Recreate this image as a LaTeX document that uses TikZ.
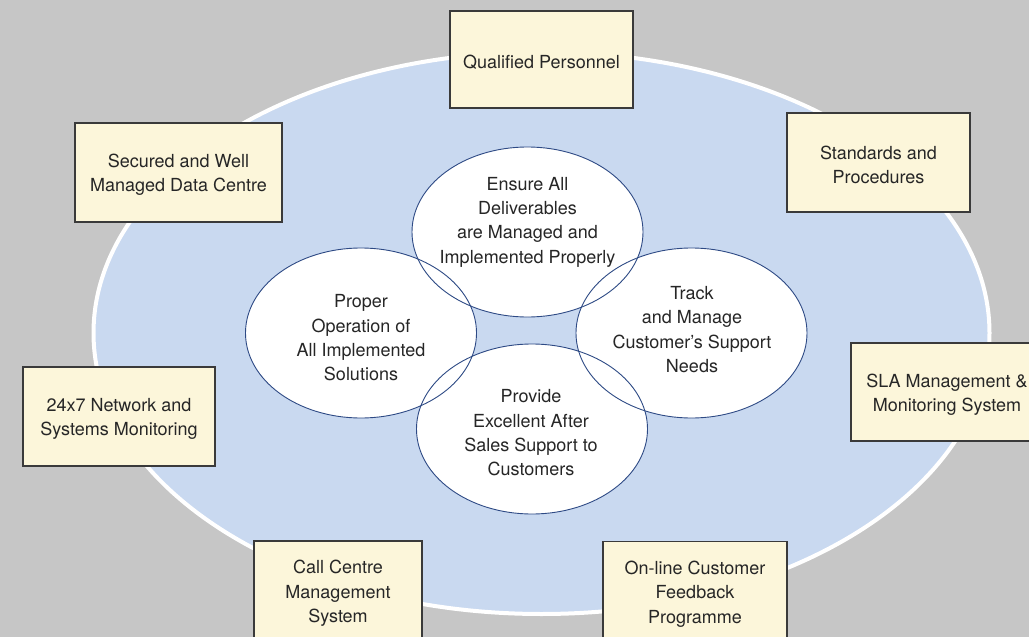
\documentclass[tikz,border=0pt]{standalone}
\usepackage{fontspec}
\setmainfont{TeX Gyre Heros}
\usetikzlibrary{shapes.geometric}
\definecolor{bg}{HTML}{C6C6C6}
\definecolor{bigfill}{HTML}{C9D9F0}
\definecolor{boxfill}{HTML}{FCF6DA}
\definecolor{boxline}{HTML}{3A3A3A}
\definecolor{ringline}{HTML}{2E4A85}
\definecolor{txt}{HTML}{262626}
\begin{document}
\begin{tikzpicture}[x=1pt,y=-1pt,
  bigring/.style={ellipse, inner sep=0pt, minimum width=896pt, minimum height=562pt, fill=bigfill, draw=white, line width=4pt},
  goalfill/.style={ellipse, inner sep=0pt, minimum width=231pt, minimum height=170pt, fill=white},
  goalline/.style={ellipse, inner sep=0pt, minimum width=231pt, minimum height=170pt, draw=ringline, line width=0.9pt},
  goaltext/.style={align=center, text=txt, font=\fontsize{18}{24.3}\selectfont, inner sep=0pt},
  infobox/.style={rectangle, fill=boxfill, draw=boxline, line width=1.4pt, inner sep=0pt},
  boxtext/.style={align=center, text=txt, font=\fontsize{18}{24.3}\selectfont, inner sep=0pt, yshift=-2.5pt}
]
\useasboundingbox (0,0) rectangle (1029,637);
\clip (0,0) rectangle (1029,637);
\fill[bg] (0,0) rectangle (1029,637);
\node[bigring] (big) at (541.5,333) {};

% fills of the four goal ellipses
\node[goalfill] (topbg) at (527.5,232) {};
\node[goalfill] (leftbg) at (361,333) {};
\node[goalfill] (rightbg) at (691.5,333) {};
\node[goalfill] (botbg) at (532,429) {};
% outlines
\node[goalline] (top) at (topbg) {};
\node[goalline] (left) at (leftbg) {};
\node[goalline] (right) at (rightbg) {};
\node[goalline] (bot) at (botbg) {};
% texts
\node[goaltext] (toptext) at (527.5,222) {Ensure All\\Deliverables\\are Managed and\\Implemented Properly};
\node[goaltext] (lefttext) at (361,338) {Proper\\Operation of\\All Implemented\\Solutions};
\node[goaltext] (righttext) at (692,329.5) {Track\\and Manage\\Customer’s Support\\Needs};
\node[goaltext] (bottext) at (531,433) {Provide\\Excellent After\\Sales Support to\\Customers};

% surrounding boxes
\node[infobox, minimum width=183pt, minimum height=97pt] (qual) at (541.5,59.5) {};
\node[boxtext] (qualtext) at (qual.center) {Qualified Personnel};
\node[infobox, minimum width=207pt, minimum height=99pt] (data) at (178.5,172.5) {};
\node[boxtext] (datatext) at (data.center) {Secured and Well\\Managed Data Centre};
\node[infobox, minimum width=183pt, minimum height=99pt] (std) at (878.5,162.5) {};
\node[boxtext] (stdtext) at (std.center) {Standards and\\Procedures};
\node[infobox, minimum width=192pt, minimum height=99pt] (net) at (119,416.5) {};
\node[boxtext] (nettext) at (net.center) {24x7 Network and\\Systems Monitoring};
\node[infobox, minimum width=192pt, minimum height=98pt] (sla) at (947,392) {};
\node[boxtext] (slatext) at (sla.center) {SLA Management \&\\Monitoring System};
\node[infobox, minimum width=168pt, minimum height=100pt] (call) at (338,591) {};
\node[boxtext] (calltext) at (call.center) {Call Centre\\Management\\System};
\node[infobox, minimum width=184pt, minimum height=100pt] (feed) at (695,591.5) {};
\node[boxtext] (feedtext) at (feed.center) {On-line Customer\\Feedback\\Programme};
\end{tikzpicture}
\end{document}
